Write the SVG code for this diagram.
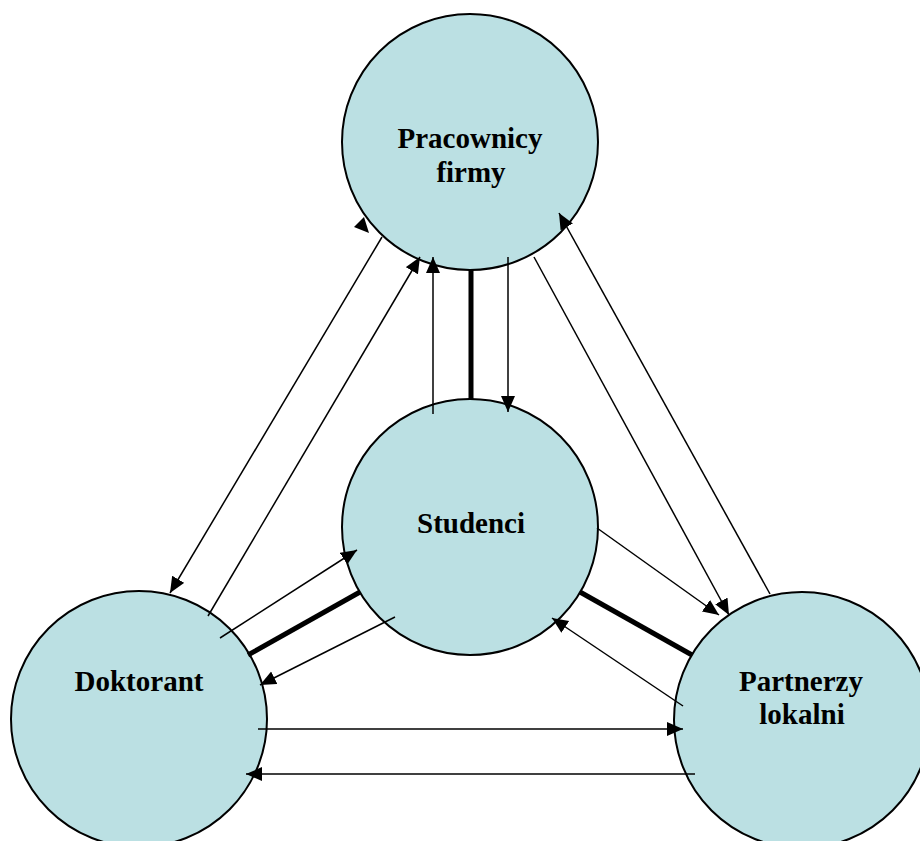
<svg xmlns="http://www.w3.org/2000/svg" width="920" height="841" viewBox="0 0 920 841">
<style>
.node circle{fill:#bbe0e3;stroke:#000;stroke-width:2}
.node text{font-family:"Liberation Serif","Times New Roman",serif;font-weight:bold;font-size:29px;text-anchor:middle;fill:#000}
.c line{stroke:#000;stroke-width:1.5}
.c line.thick{stroke-width:5}
</style>
<defs>
<marker id="ah" markerUnits="userSpaceOnUse" markerWidth="17" markerHeight="15" refX="16" refY="7" orient="auto">
<path d="M0,0 L16,7 L0,14 z" fill="#000"/>
</marker>
</defs>
<rect width="920" height="841" fill="#fff"/>
<g id="pracownicy" class="node"><circle cx="470" cy="142" r="128"/><text x="470" y="148">Pracownicy</text><text x="471" y="182">firmy</text></g>
<g id="studenci" class="node"><circle cx="470" cy="527" r="128"/><text x="471" y="533">Studenci</text></g>
<g id="doktorant" class="node"><circle cx="139" cy="719" r="128"/><text x="139" y="691">Doktorant</text></g>
<g id="partnerzy" class="node"><circle cx="802" cy="720" r="128"/><text x="801" y="691">Partnerzy</text><text x="802" y="724">lokalni</text></g>
<g id="connectors" class="c">
<line x1="382" y1="237" x2="170" y2="593" marker-end="url(#ah)"/>
<line x1="208" y1="616" x2="420" y2="257" marker-end="url(#ah)"/>
<polygon points="364,217 354,227 369,233" fill="#000"/>
<line x1="433" y1="414" x2="433" y2="257" marker-end="url(#ah)"/>
<line class="thick" x1="471" y1="270" x2="471" y2="400"/>
<line x1="508" y1="257" x2="508" y2="412" marker-end="url(#ah)"/>
<line x1="534" y1="257" x2="729" y2="615" marker-end="url(#ah)"/>
<line x1="770" y1="594" x2="559" y2="213" marker-end="url(#ah)"/>
<line x1="597" y1="528" x2="719" y2="615" marker-end="url(#ah)"/>
<line class="thick" x1="580" y1="592" x2="692" y2="655"/>
<line x1="683" y1="706" x2="552" y2="618" marker-end="url(#ah)"/>
<line x1="220" y1="638" x2="357" y2="550" marker-end="url(#ah)"/>
<line class="thick" x1="248" y1="655" x2="360" y2="592"/>
<line x1="395" y1="617" x2="260" y2="685" marker-end="url(#ah)"/>
<line x1="258" y1="729" x2="683" y2="729" marker-end="url(#ah)"/>
<line x1="695" y1="774" x2="246" y2="774" marker-end="url(#ah)"/>
</g>
</svg>
